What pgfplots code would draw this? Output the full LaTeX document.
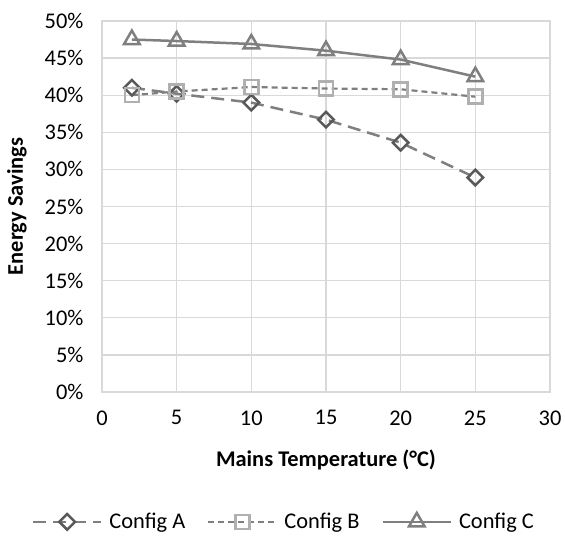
\documentclass[border=0pt]{standalone}
\usepackage{pgfplots}
\pgfplotsset{compat=1.18}
\usepackage{fontspec}
\setmainfont{Carlito}
\definecolor{gridc}{HTML}{D9D9D9}
\definecolor{cA}{HTML}{7F7F7F}
\definecolor{mA}{HTML}{595959}
\definecolor{cB}{HTML}{7F7F7F}
\definecolor{mB}{HTML}{B0B0B0}
\definecolor{cC}{HTML}{7F7F7F}
\begin{document}
\begin{tikzpicture}
\path[use as bounding box] (-102bp,-150bp) rectangle (463bp,392bp);
\begin{axis}[
  at={(0,0)}, anchor=south west,
  scale only axis, width=448bp, height=371bp,
  xmin=0, xmax=30, ymin=0, ymax=50,
  xtick={0,5,...,30}, ytick={0,5,...,50},
  major tick length=0pt,
  grid=major,
  major grid style={gridc, line width=1.3bp},
  axis line style={gridc, line width=1.3bp},
  font=\fontsize{22.5}{27}\selectfont,
  /pgf/number format/assume math mode=true,
  yticklabel={\pgfmathprintnumber{\tick}\%},
  xticklabel style={yshift=-15bp},
  yticklabel style={xshift=-15bp},
  xlabel={\textbf{Mains Temperature (°C)}},
  ylabel={\textbf{Energy Savings}},
  xlabel style={at={(rel axis cs:0.5,0)}, anchor=center, yshift=-68bp},
  ylabel style={at={(rel axis cs:0,0.5)}, anchor=center, yshift=85bp},
  legend columns=3,
  legend style={at={(rel axis cs:0.406,-0.350)}, anchor=center, draw=none, fill=none,
    font=\fontsize{22.5}{27}\selectfont,
    /tikz/every odd column/.append style={column sep=5bp},
    /tikz/every even column/.append style={column sep=20bp}},
  legend image code/.code={%
    \draw[mark repeat=2,mark phase=2,#1] plot coordinates {(0bp,0bp) (34bp,0bp) (68bp,0bp)};},
]
\addplot[cA, line width=2.5bp, dash pattern=on 13bp off 7bp,
  mark=square, mark options={solid, rotate=45, mA, fill=white, line width=2.5bp, mark size=5.5bp}]
  coordinates {(2,41.0) (5,40.2) (10,39.0) (15,36.7) (20,33.6) (25,28.9)};
\addlegendentry{Config A}
\addplot[cB, line width=2.2bp, dash pattern=on 6bp off 4bp,
  mark=square, mark options={solid, mB, fill=white, line width=2.5bp, mark size=7bp}]
  coordinates {(2,40.0) (5,40.5) (10,41.1) (15,40.9) (20,40.8) (25,39.8)};
\addlegendentry{Config B}
\addplot[cC, line width=2.5bp,
  mark=triangle, mark options={solid, cC, fill=white, line width=2.5bp, mark size=9bp}]
  coordinates {(2,47.5) (5,47.3) (10,46.9) (15,46.0) (20,44.8) (25,42.5)};
\addlegendentry{Config C}
\end{axis}
\end{tikzpicture}
\end{document}
